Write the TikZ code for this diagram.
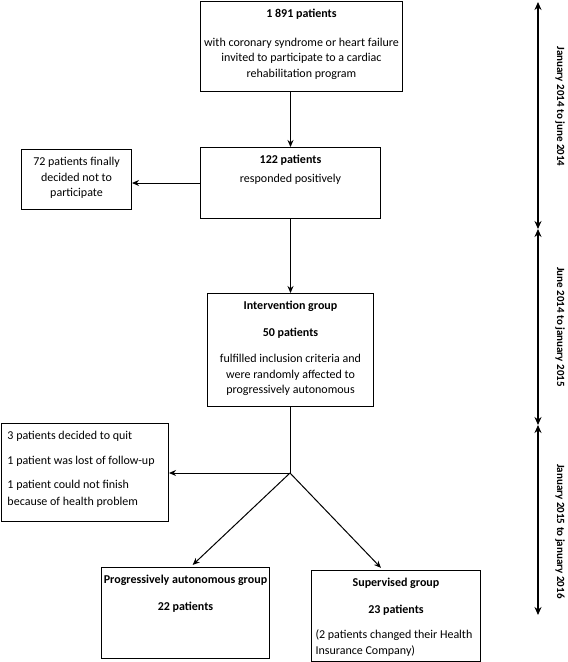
\documentclass[tikz,border=0pt]{standalone}
\usepackage{fontspec}
\setmainfont{Carlito}
\usetikzlibrary{arrows.meta, calc}

\newcommand{\boxbody}[3]{\parbox[c][#2][t]{#1}{\vspace*{8pt}#3}}

\begin{document}
\begin{tikzpicture}[x=1pt, y=-1pt,
  flowbox/.style={draw, line width=1pt, inner sep=0pt, anchor=north west, font=\fontsize{12}{15.5}\selectfont},
  flowarrow/.style={line width=1pt, -{Stealth[length=7pt, width=6pt]}},
  timeline/.style={line width=2.8pt, {Stealth[length=8pt, width=7pt]}-{Stealth[length=8pt, width=7pt]}},
  period/.style={rotate=-90, font=\fontsize{11}{13}\selectfont\bfseries}]
\useasboundingbox (0,0) rectangle (568,662);

% Flow boxes
\node[flowbox] (invited) at (200,1) {\boxbody{202pt}{90pt}{\centering
  \textbf{1 891 patients}\\[13pt]
  with coronary syndrome or heart failure\\
  invited to participate to a cardiac\\
  rehabilitation program}};
\node[flowbox] (positive) at (200,147) {\boxbody{180pt}{71pt}{\centering
  \textbf{122 patients}\\[3pt]
  responded positively}};
\node[flowbox] (declined) at (21,149) {\boxbody{110pt}{60pt}{\centering
  72 patients finally\\
  decided not to\\
  participate}};
\node[flowbox] (intervention) at (207,293) {\boxbody{166pt}{113pt}{\centering
  \textbf{Intervention group}\\[11pt]
  \textbf{50 patients}\\[11pt]
  fulfilled inclusion criteria and\\
  were randomly affected to\\
  progressively autonomous}};
\node[flowbox] (dropout) at (1,423) {\boxbody{167pt}{98pt}{\raggedright\leftskip=6pt
  3 patients decided to quit\\[9pt]
  1 patient was lost of follow-up\\[9pt]
  1 patient could not finish\\[1pt]
  because of health problem}};
\node[flowbox] (autonomous) at (101,567) {\boxbody{168pt}{91pt}{\centering
  \textbf{Progressively autonomous group}\\[11pt]
  \textbf{22 patients}}};
\node[flowbox] (supervised) at (311,570) {\boxbody{169pt}{91pt}{\centering
  \textbf{Supervised group}\\[11pt]
  \textbf{23 patients}\\[10pt]
  {\raggedright\leftskip=4pt
  (2 patients changed their Health\\
  Insurance Company)\par}}};

% Connectors
\coordinate (split) at (290,473);
\draw[flowarrow] (positive.north |- invited.south) -- (positive.north);
\draw[flowarrow] (positive.west) -- (positive.west -| declined.east);
\draw[flowarrow] (positive.south) -- (positive.south |- intervention.north);
\draw[line width=1pt] (intervention.south -| split) -- (split);
\draw[flowarrow] (split) -- (split -| dropout.east);
\draw[flowarrow, shorten >=3pt] (split) -- ($(autonomous.north)+(5,0)$);
\draw[flowarrow, shorten >=3pt] (split) -- ($(supervised.north)+(-13,0)$);

% Time periods
\coordinate (t0) at (538,2);
\coordinate (t1) at (538,229);
\coordinate (t2) at (538,425);
\coordinate (t3) at (538,615);
\draw[timeline] (t0) -- (t1) node[pos=0.46, xshift=22pt, period] {January 2014 to june 2014};
\draw[timeline] (t1) -- (t2) node[midway, xshift=22pt, period] {June 2014 to january 2015};
\draw[timeline] (t2) -- (t3) node[pos=0.56, xshift=22pt, period] {January 2015 to january 2016};
\end{tikzpicture}
\end{document}
